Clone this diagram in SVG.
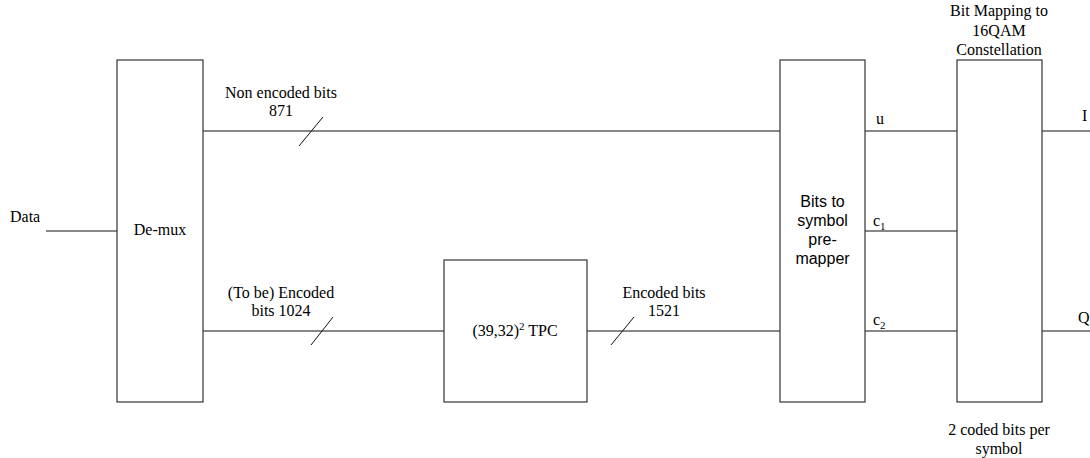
<svg xmlns="http://www.w3.org/2000/svg" width="1090" height="458" viewBox="0 0 1090 458">
<style>
.box{fill:#fff;stroke:#333;stroke-width:1.2}
.ln{stroke:#111;stroke-width:1;fill:none}
.t{font-family:"Liberation Serif","Times New Roman",serif;font-size:16px;fill:#000}
.c{text-anchor:middle}
.s{font-family:"Liberation Sans",Arial,sans-serif;font-size:16px;fill:#000;text-anchor:middle}
</style>
<rect width="1090" height="458" fill="#fff"/>
<g id="connectors">
<line class="ln" x1="46" y1="231" x2="117" y2="231"/>
<line class="ln" x1="203" y1="131" x2="780" y2="131"/>
<line class="ln" x1="203" y1="331" x2="444" y2="331"/>
<line class="ln" x1="587" y1="331" x2="780" y2="331"/>
<line class="ln" x1="865" y1="131" x2="957" y2="131"/>
<line class="ln" x1="865" y1="231" x2="957" y2="231"/>
<line class="ln" x1="865" y1="331" x2="957" y2="331"/>
<line class="ln" x1="1042" y1="131" x2="1090" y2="131"/>
<line class="ln" x1="1042" y1="331" x2="1090" y2="331"/>
<line class="ln" x1="299" y1="146" x2="323" y2="117"/>
<line class="ln" x1="311" y1="345" x2="333" y2="317"/>
<line class="ln" x1="611" y1="345" x2="634" y2="317"/>
<text class="t" x="10" y="222">Data</text>
<text class="t c" x="281" y="98">Non encoded bits</text>
<text class="t c" x="281" y="116">871</text>
<text class="t c" x="281" y="298">(To be) Encoded</text>
<text class="t c" x="281" y="316">bits 1024</text>
<text class="t c" x="664" y="298">Encoded bits</text>
<text class="t c" x="664" y="316">1521</text>
<text class="t" x="876" y="124">u</text>
<text class="t" x="873" y="226">c<tspan font-size="11" dy="4">1</tspan></text>
<text class="t" x="873" y="325">c<tspan font-size="11" dy="4">2</tspan></text>
<text class="t" x="1082" y="121">I</text>
<text class="t" x="1078" y="323">Q</text>
</g>
<g id="demux">
<rect class="box" x="117" y="60" width="86" height="342"/>
<text class="t c" x="160" y="235">De-mux</text>
</g>
<g id="tpc">
<rect class="box" x="444" y="260" width="143" height="142"/>
<text class="t c" x="515" y="336">(39,32)<tspan font-size="11" dy="-6">2</tspan><tspan dy="6"> TPC</tspan></text>
</g>
<g id="premapper">
<rect class="box" x="780" y="60" width="85" height="342"/>
<text class="s" x="822.5" y="207">Bits to</text>
<text class="s" x="822.5" y="226">symbol</text>
<text class="s" x="822.5" y="245">pre-</text>
<text class="s" x="822.5" y="264">mapper</text>
</g>
<g id="mapper">
<rect class="box" x="957" y="60" width="85" height="342"/>
<text class="t c" x="999" y="16">Bit Mapping to</text>
<text class="t c" x="999" y="36">16QAM</text>
<text class="t c" x="999" y="55">Constellation</text>
<text class="t c" x="999" y="435">2 coded bits per</text>
<text class="t c" x="999" y="454">symbol</text>
</g>
</svg>
